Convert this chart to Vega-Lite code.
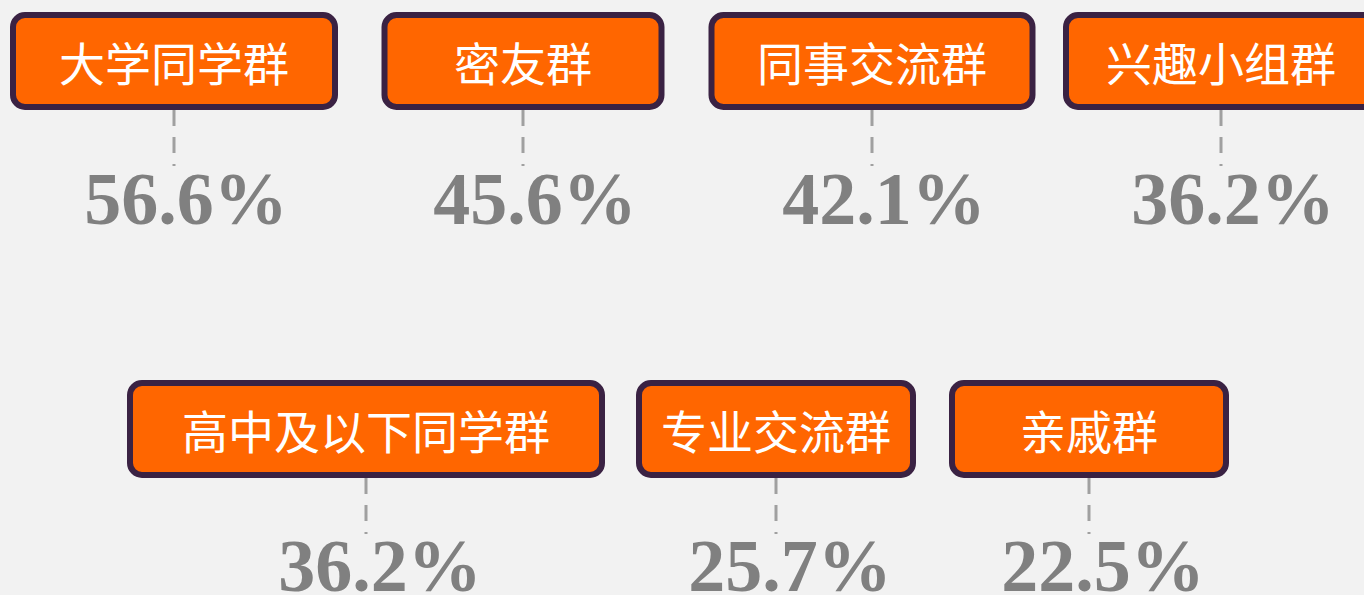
{
  "$schema": "https://vega.github.io/schema/vega-lite/v6.json",
  "width": 1364,
  "height": 595,
  "padding": 0,
  "autosize": {"type": "none"},
  "background": "#f2f2f2",
  "config": {"view": {"stroke": null}},
  "datasets": {
    "groups": [
      {"label": "大学同学群", "value": 0.566, "row": 1},
      {"label": "密友群", "value": 0.456, "row": 1},
      {"label": "同事交流群", "value": 0.421, "row": 1},
      {"label": "兴趣小组群", "value": 0.362, "row": 1},
      {"label": "高中及以下同学群", "value": 0.362, "row": 2},
      {"label": "专业交流群", "value": 0.257, "row": 2},
      {"label": "亲戚群", "value": 0.225, "row": 2}
    ]
  },
  "data": {"name": "groups"},
  "resolve": {"scale": {"x": "independent"}},
  "layer": [
    {
      "transform": [{"filter": "datum.row === 1"}],
      "encoding": {
        "x": {"field": "label", "type": "nominal", "sort": null, "axis": null,
              "scale": {"type": "point", "domain": ["大学同学群", "密友群", "同事交流群", "兴趣小组群"], "range": [174, 1221], "padding": 0}}
      },
      "layer": [
        {
          "mark": {"type": "rule", "color": "#a0a0a0", "strokeWidth": 3, "strokeDash": [16, 11]},
          "encoding": {
            "y": {"datum": 110, "type": "quantitative", "axis": null, "scale": {"domain": [0, 595], "reverse": true, "nice": false, "zero": false}},
            "y2": {"datum": 166}
          }
        },
        {
          "mark": {"type": "bar", "orient": "vertical", "fill": "#ff6600", "stroke": "#3a2243", "strokeWidth": 6, "cornerRadius": 12},
          "encoding": {
            "y": {"datum": 15, "type": "quantitative", "axis": null, "scale": {"domain": [0, 595], "reverse": true, "nice": false, "zero": false}},
            "y2": {"datum": 107},
            "size": {"field": "label", "type": "nominal", "legend": null,
                     "scale": {"type": "ordinal", "domain": ["大学同学群", "密友群", "同事交流群", "兴趣小组群", "高中及以下同学群", "专业交流群", "亲戚群"], "range": [322, 277, 321, 310, 472, 274, 274]}}
          }
        },
        {
          "mark": {"type": "text", "color": "#ffffff", "font": "Noto Sans CJK SC", "fontSize": 46, "baseline": "middle"},
          "encoding": {
            "y": {"datum": 67, "type": "quantitative", "axis": null, "scale": {"domain": [0, 595], "reverse": true, "nice": false, "zero": false}},
            "text": {"field": "label"}
          }
        },
        {
          "mark": {"type": "text", "font": "Liberation Serif", "fontWeight": "bold", "fontSize": 74, "color": "#808080", "baseline": "alphabetic", "dx": 12},
          "encoding": {
            "y": {"datum": 224, "type": "quantitative", "axis": null, "scale": {"domain": [0, 595], "reverse": true, "nice": false, "zero": false}},
            "text": {"field": "value", "type": "quantitative", "format": ".1%"}
          }
        }
      ]
    },
    {
      "transform": [{"filter": "datum.label === '高中及以下同学群'"}],
      "encoding": {
        "x": {"field": "label", "type": "nominal", "sort": null, "axis": null,
              "scale": {"type": "point", "domain": ["高中及以下同学群"], "range": [0, 732], "padding": 0}}
      },
      "layer": [
        {
          "mark": {"type": "rule", "color": "#a0a0a0", "strokeWidth": 3, "strokeDash": [16, 11]},
          "encoding": {
            "y": {"datum": 478, "type": "quantitative", "axis": null, "scale": {"domain": [0, 595], "reverse": true, "nice": false, "zero": false}},
            "y2": {"datum": 534}
          }
        },
        {
          "mark": {"type": "bar", "orient": "vertical", "fill": "#ff6600", "stroke": "#3a2243", "strokeWidth": 6, "cornerRadius": 12},
          "encoding": {
            "y": {"datum": 383, "type": "quantitative", "axis": null, "scale": {"domain": [0, 595], "reverse": true, "nice": false, "zero": false}},
            "y2": {"datum": 475},
            "size": {"field": "label", "type": "nominal", "legend": null,
                     "scale": {"type": "ordinal", "domain": ["大学同学群", "密友群", "同事交流群", "兴趣小组群", "高中及以下同学群", "专业交流群", "亲戚群"], "range": [322, 277, 321, 310, 472, 274, 274]}}
          }
        },
        {
          "mark": {"type": "text", "color": "#ffffff", "font": "Noto Sans CJK SC", "fontSize": 46, "baseline": "middle"},
          "encoding": {
            "y": {"datum": 435, "type": "quantitative", "axis": null, "scale": {"domain": [0, 595], "reverse": true, "nice": false, "zero": false}},
            "text": {"field": "label"}
          }
        },
        {
          "mark": {"type": "text", "font": "Liberation Serif", "fontWeight": "bold", "fontSize": 74, "color": "#808080", "baseline": "alphabetic", "dx": 14},
          "encoding": {
            "y": {"datum": 591, "type": "quantitative", "axis": null, "scale": {"domain": [0, 595], "reverse": true, "nice": false, "zero": false}},
            "text": {"field": "value", "type": "quantitative", "format": ".1%"}
          }
        }
      ]
    },
    {
      "transform": [{"filter": "datum.row === 2 && datum.label !== '高中及以下同学群'"}],
      "encoding": {
        "x": {"field": "label", "type": "nominal", "sort": null, "axis": null,
              "scale": {"type": "point", "domain": ["专业交流群", "亲戚群"], "range": [776, 1089], "padding": 0}}
      },
      "layer": [
        {
          "mark": {"type": "rule", "color": "#a0a0a0", "strokeWidth": 3, "strokeDash": [16, 11]},
          "encoding": {
            "y": {"datum": 478, "type": "quantitative", "axis": null, "scale": {"domain": [0, 595], "reverse": true, "nice": false, "zero": false}},
            "y2": {"datum": 534}
          }
        },
        {
          "mark": {"type": "bar", "orient": "vertical", "fill": "#ff6600", "stroke": "#3a2243", "strokeWidth": 6, "cornerRadius": 12},
          "encoding": {
            "y": {"datum": 383, "type": "quantitative", "axis": null, "scale": {"domain": [0, 595], "reverse": true, "nice": false, "zero": false}},
            "y2": {"datum": 475},
            "size": {"field": "label", "type": "nominal", "legend": null,
                     "scale": {"type": "ordinal", "domain": ["大学同学群", "密友群", "同事交流群", "兴趣小组群", "高中及以下同学群", "专业交流群", "亲戚群"], "range": [322, 277, 321, 310, 472, 274, 274]}}
          }
        },
        {
          "mark": {"type": "text", "color": "#ffffff", "font": "Noto Sans CJK SC", "fontSize": 46, "baseline": "middle"},
          "encoding": {
            "y": {"datum": 435, "type": "quantitative", "axis": null, "scale": {"domain": [0, 595], "reverse": true, "nice": false, "zero": false}},
            "text": {"field": "label"}
          }
        },
        {
          "mark": {"type": "text", "font": "Liberation Serif", "fontWeight": "bold", "fontSize": 74, "color": "#808080", "baseline": "alphabetic", "dx": 14},
          "encoding": {
            "y": {"datum": 591, "type": "quantitative", "axis": null, "scale": {"domain": [0, 595], "reverse": true, "nice": false, "zero": false}},
            "text": {"field": "value", "type": "quantitative", "format": ".1%"}
          }
        }
      ]
    }
  ]
}
